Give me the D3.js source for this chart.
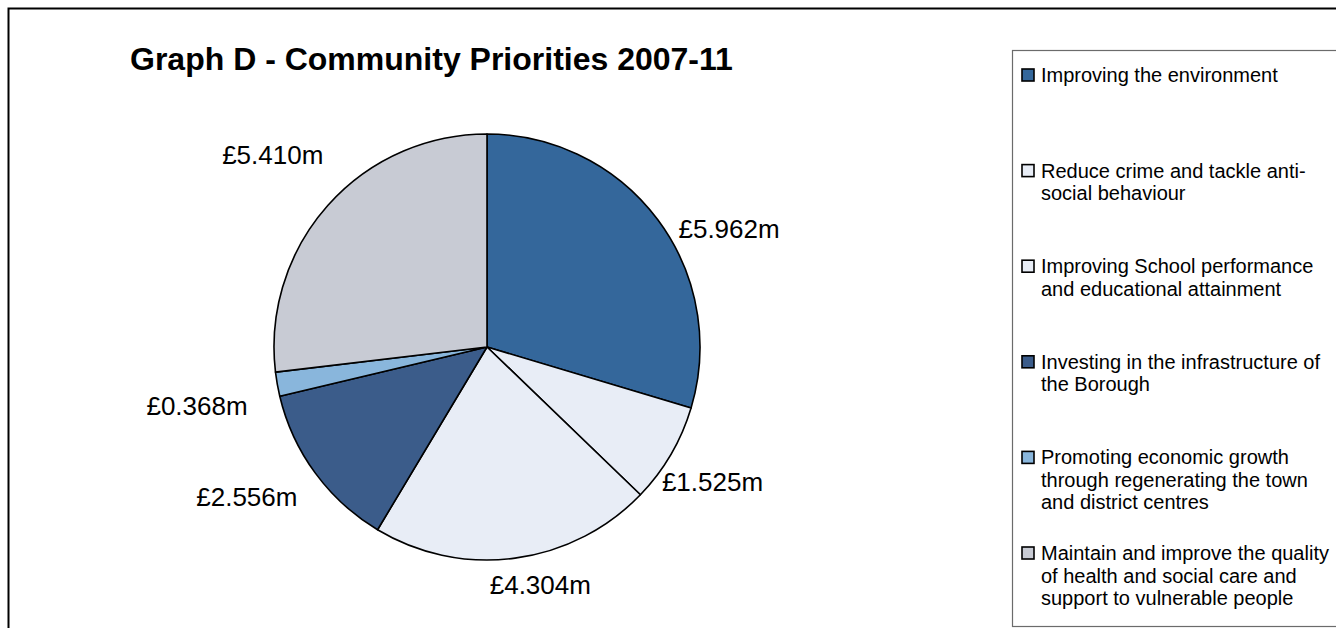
<!DOCTYPE html>
<html>
<head>
<meta charset="utf-8">
<script src="https://cdn.jsdelivr.net/npm/d3@7/dist/d3.min.js"></script>
<style>
  html, body { margin: 0; padding: 0; background: #fff; }
  svg { display: block; font-family: Arial, "Liberation Sans", sans-serif; }
</style>
</head>
<body>
<svg id="chart" width="1336" height="628"></svg>
<script>
// Community priorities, spend 2007-11 (£m), clockwise from 12 o'clock
const categories = [
  "Improving the environment",
  "Reduce crime and tackle anti-\nsocial behaviour",
  "Improving School performance\nand educational attainment",
  "Investing in the infrastructure of\nthe Borough",
  "Promoting economic growth\nthrough regenerating the town\nand district centres",
  "Maintain and improve the quality\nof health and social care and\nsupport to vulnerable people"
];
const values = [5.962, 1.525, 4.304, 2.556, 0.368, 5.410];
const colors = ["#34679b", "#e8edf6", "#e8edf6", "#3b5c8a", "#89b6dc", "#c8cbd4"];
const title = "Graph D - Community Priorities 2007-11";

// hand-placed adjustments to the value labels (px), in slice order
const labelNudge = [[3, 33], [-28, 5], [9, -6], [0, 0], [-8, 14], [12, -25]];

const svg = d3.select("#chart");
const W = 1336, H = 628;

// outer chart frame (runs off the right and bottom edges)
svg.append("rect")
  .attr("x", 8.5).attr("y", 8.5)
  .attr("width", W + 40).attr("height", H + 40)
  .attr("fill", "#fff").attr("stroke", "#000").attr("stroke-width", 2);

// title
svg.append("text")
  .attr("x", 130).attr("y", 70)
  .attr("font-size", 32).attr("font-weight", "bold")
  .attr("fill", "#000")
  .text(title);

// pie
const cx = 487, cy = 347, R = 213;
const pie = d3.pie().sort(null).value(d => d.v);
const data = values.map((v, i) => ({ v, i, name: categories[i], color: colors[i] }));
const arcs = pie(data);
const arc = d3.arc().innerRadius(0).outerRadius(R);

const g = svg.append("g").attr("transform", `translate(${cx},${cy})`);
g.selectAll("path.slice")
  .data(arcs)
  .join("path")
  .attr("class", "slice")
  .attr("d", arc)
  .attr("fill", d => d.data.color)
  .attr("stroke", "#000")
  .attr("stroke-width", 1.6)
  .attr("stroke-linejoin", "round");

// value labels outside each slice
const fmt = v => "£" + v.toFixed(3) + "m";
const clamp = x => Math.max(-1, Math.min(1, x));
const labels = g.selectAll("text.val")
  .data(arcs)
  .join("text")
  .attr("class", "val")
  .attr("font-size", 26)
  .attr("fill", "#000")
  .attr("text-anchor", "middle")
  .text(d => fmt(d.data.v));

labels.each(function(d) {
  const a = (d.startAngle + d.endAngle) / 2;
  const ux = Math.sin(a), uy = -Math.cos(a);
  const w = this.getBBox().width, h = 18;
  const gap = 22;
  const px = ux * (R + gap), py = uy * (R + gap);
  const [nx, ny] = labelNudge[d.index];
  const mx = px + (w / 2) * clamp(ux / 0.5) + nx;
  const my = py + (h / 2 + 2) * clamp(uy / 0.5) + ny;
  d3.select(this).attr("x", mx).attr("y", my + h / 2);
});

// legend
const lx = 1012.5, ly = 50.5;
svg.append("rect")
  .attr("x", lx).attr("y", ly)
  .attr("width", 400).attr("height", 576)
  .attr("fill", "#fff").attr("stroke", "#6b6b6b").attr("stroke-width", 1.2);

const ys = d3.scalePoint().domain(d3.range(categories.length)).range([82, 560]);
const items = svg.append("g").selectAll("g.item")
  .data(data)
  .join("g")
  .attr("class", "item")
  .attr("transform", d => `translate(0,${ys(d.i)})`);

items.append("rect")
  .attr("x", 1022).attr("y", -13)
  .attr("width", 12).attr("height", 12)
  .attr("fill", d => d.color)
  .attr("stroke", "#000").attr("stroke-width", 1.6);

items.append("text")
  .attr("x", 1041).attr("y", 0)
  .attr("font-size", 20)
  .attr("fill", "#000")
  .selectAll("tspan")
  .data(d => d.name.split("\n").map((t, k) => ({ t, k })))
  .join("tspan")
  .attr("x", 1041)
  .attr("dy", d => d.k === 0 ? 0 : 22.5)
  .text(d => d.t);
</script>
</body>
</html>
